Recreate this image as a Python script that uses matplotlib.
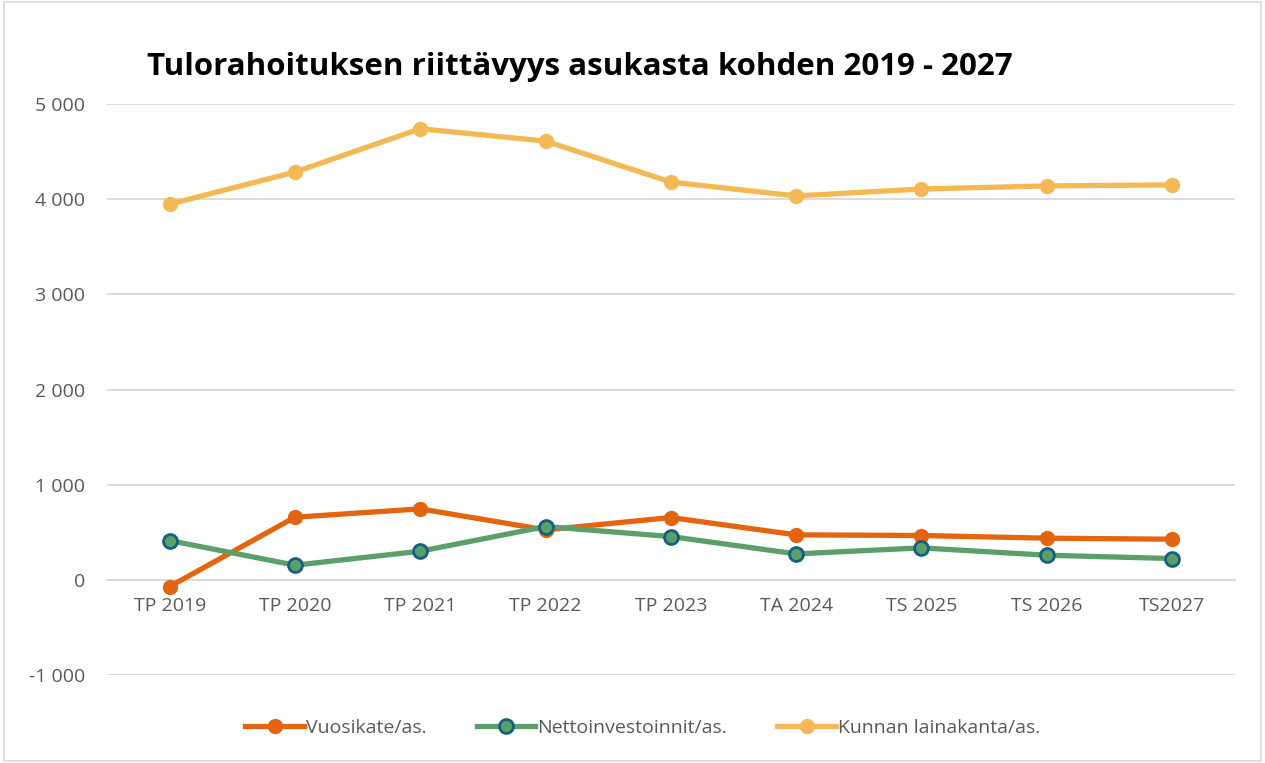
import numpy as np
import matplotlib.pyplot as plt
from matplotlib.patches import Rectangle

categories = ['TP 2019', 'TP 2020', 'TP 2021', 'TP 2022', 'TP 2023',
              'TA 2024', 'TS 2025', 'TS 2026', 'TS2027']
vuosikate = [-70, 658, 746, 525, 655, 473, 466, 438, 427]
nettoinv = [413, 154, 301, 560, 455, 273, 336, 259, 224]
lainakanta = [3948, 4285, 4740, 4610, 4180, 4034, 4107, 4139, 4150]
yticks = [-1000, 0, 1000, 2000, 3000, 4000, 5000]
ytick_labels = ['-1 000', '0', '1 000', '2 000', '3 000', '4 000', '5 000']

plt.rcParams['font.family'] = ['Open Sans', 'DejaVu Sans']

fig = plt.figure(figsize=(12.65, 7.63), dpi=100)
ax = fig.add_axes([0.0846, 0.1153, 0.976 - 0.0846, 0.8637 - 0.1153])

x = np.arange(len(categories))
ax.plot(x, vuosikate, color='#E4650E', lw=3.8, marker='o', ms=10,
        label='Vuosikate/as.', zorder=3)
ax.plot(x, nettoinv, color='#5B9F6B', lw=3.8, marker='o', ms=10,
        mfc='#5B9F6B', mec='#155F80', mew=2, label='Nettoinvestoinnit/as.', zorder=4)
ax.plot(x, lainakanta, color='#F4B955', lw=3.8, marker='o', ms=10,
        label='Kunnan lainakanta/as.', zorder=3)

ax.set_xlim(-0.5, len(categories) - 0.5)
ax.set_ylim(-1000, 5000)
ax.set_yticks(yticks)
ax.set_yticklabels(ytick_labels)
ax.set_xticks(x)
ax.set_xticklabels(categories)
ax.grid(axis='y', color='#D9D9D9', lw=1.3)
ax.set_axisbelow(True)
for s in ['top', 'right', 'left']:
    ax.spines[s].set_visible(False)
ax.spines['bottom'].set_position(('data', 0))
ax.spines['bottom'].set_color('#D9D9D9')
ax.spines['bottom'].set_linewidth(1.3)
ax.tick_params(axis='both', length=0, labelsize=14, colors='#595959')
ax.tick_params(axis='x', pad=12)
ax.tick_params(axis='y', pad=16)

fig.text(0.458, 0.912, 'Tulorahoituksen riittävyys asukasta kohden 2019 - 2027',
         ha='center', va='center', fontsize=22.5, fontweight='bold', color='black')

leg = fig.legend(loc='center', bbox_to_anchor=(0.508, 0.046), ncol=3, frameon=False,
                 fontsize=14, handlelength=3.0, handletextpad=0.1, columnspacing=2.6)
for t in leg.get_texts():
    t.set_color('#595959')

fig.patches.append(Rectangle((0.003, 0.002), 0.994, 0.996, transform=fig.transFigure,
                             fill=False, edgecolor='#D9D9D9', lw=1.2))

fig.savefig('out.png', dpi=100)
